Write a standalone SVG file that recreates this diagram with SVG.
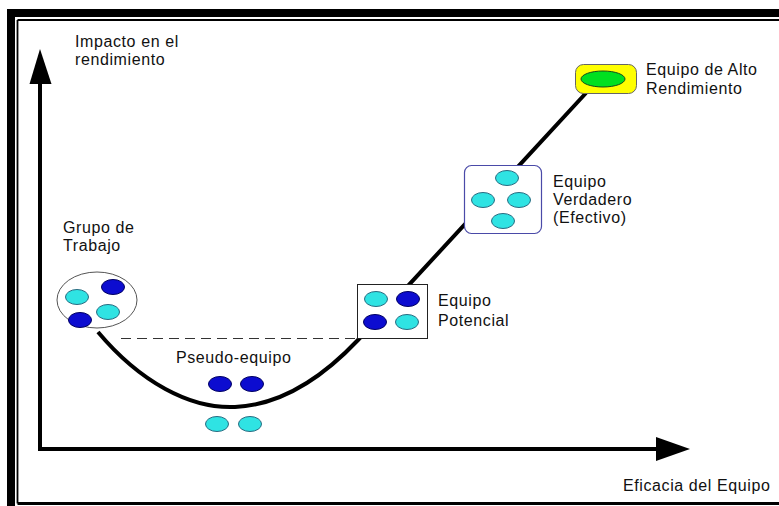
<svg xmlns="http://www.w3.org/2000/svg" width="779" height="506" viewBox="0 0 779 506">
  <style>
    text { font-family: "Liberation Sans", Arial, sans-serif; font-size: 16px; letter-spacing: 0.6px; fill: #111; }
    .cyan { fill: #2fe3e3; stroke: #2a6a80; stroke-width: 1; }
    .blue { fill: #0c0cd0; stroke: #000060; stroke-width: 1; }
    .axis { stroke: #000; stroke-width: 4; fill: none; }
  </style>
  <defs>
    <ellipse id="dot" rx="11.5" ry="7.5"/>
  </defs>

  <!-- page frame -->
  <rect x="0" y="0" width="779" height="506" fill="#fff"/>
  <rect x="7" y="9" width="772" height="8" fill="#000"/>
  <rect x="7" y="9" width="8" height="497" fill="#000"/>
  <line x1="17.5" y1="20" x2="779" y2="20" stroke="#000" stroke-width="1.8"/>
  <line x1="17.5" y1="20" x2="17.5" y2="503.5" stroke="#000" stroke-width="1.8"/>
  <line x1="17.5" y1="503.5" x2="779" y2="503.5" stroke="#000" stroke-width="3"/>

  <!-- axes -->
  <g id="axes">
    <polyline class="axis" points="40,80 40,449 660,449"/>
    <polygon points="40,49 29.5,84 51.5,84" fill="#000"/>
    <polygon points="690,449 656,437 656,461" fill="#000"/>
    <text x="75" y="47">Impacto en el</text>
    <text x="75" y="65">rendimiento</text>
    <text x="623" y="491">Eficacia del Equipo</text>
  </g>

  <!-- connectors -->
  <g id="connectors">
    <line x1="121" y1="338.5" x2="358" y2="338.5" stroke="#333" stroke-width="1.2" stroke-dasharray="10,6"/>
    <path d="M98,332 C140,382 190,409 235,407 C280,405 322,378 358,340 L586,93" fill="none" stroke="#000" stroke-width="4"/>
  </g>

  <!-- Grupo de Trabajo -->
  <g id="grupo">
    <ellipse cx="97" cy="300" rx="40" ry="28" fill="#fff" stroke="#555" stroke-width="1"/>
    <use href="#dot" class="cyan" x="77" y="297"/>
    <use href="#dot" class="blue" x="113" y="287"/>
    <use href="#dot" class="cyan" x="108" y="312"/>
    <use href="#dot" class="blue" x="80" y="320"/>
    <text x="63" y="233">Grupo de</text>
    <text x="63" y="251">Trabajo</text>
  </g>

  <!-- Pseudo-equipo -->
  <g id="pseudo">
    <text x="176" y="363">Pseudo-equipo</text>
    <use href="#dot" class="blue" x="220" y="384"/>
    <use href="#dot" class="blue" x="252" y="384"/>
    <use href="#dot" class="cyan" x="217" y="424"/>
    <use href="#dot" class="cyan" x="250" y="424"/>
  </g>

  <!-- Equipo Potencial -->
  <g id="potencial">
    <rect x="357.5" y="284.5" width="70" height="54" fill="#fff" stroke="#222" stroke-width="1"/>
    <use href="#dot" class="cyan" x="376" y="299"/>
    <use href="#dot" class="blue" x="408" y="299"/>
    <use href="#dot" class="blue" x="375" y="322"/>
    <use href="#dot" class="cyan" x="407" y="322"/>
    <text x="438" y="306">Equipo</text>
    <text x="438" y="326">Potencial</text>
  </g>

  <!-- Equipo Verdadero -->
  <g id="verdadero">
    <rect x="464.5" y="165.5" width="77" height="68" rx="7" fill="#fff" stroke="#4a4aa8" stroke-width="1.2"/>
    <use href="#dot" class="cyan" x="507" y="178"/>
    <use href="#dot" class="cyan" x="483" y="200"/>
    <use href="#dot" class="cyan" x="519" y="200"/>
    <use href="#dot" class="cyan" x="503" y="221"/>
    <text x="553" y="187">Equipo</text>
    <text x="553" y="205">Verdadero</text>
    <text x="553" y="223">(Efectivo)</text>
  </g>

  <!-- Equipo de Alto Rendimiento -->
  <g id="alto">
    <rect x="575.5" y="64.5" width="61" height="29" rx="8" fill="#ffff00" stroke="#666" stroke-width="1"/>
    <ellipse cx="603" cy="79" rx="22" ry="8" fill="#00e020" stroke="#1a4a1a" stroke-width="1"/>
    <text x="646" y="75">Equipo de Alto</text>
    <text x="646" y="94">Rendimiento</text>
  </g>
</svg>
